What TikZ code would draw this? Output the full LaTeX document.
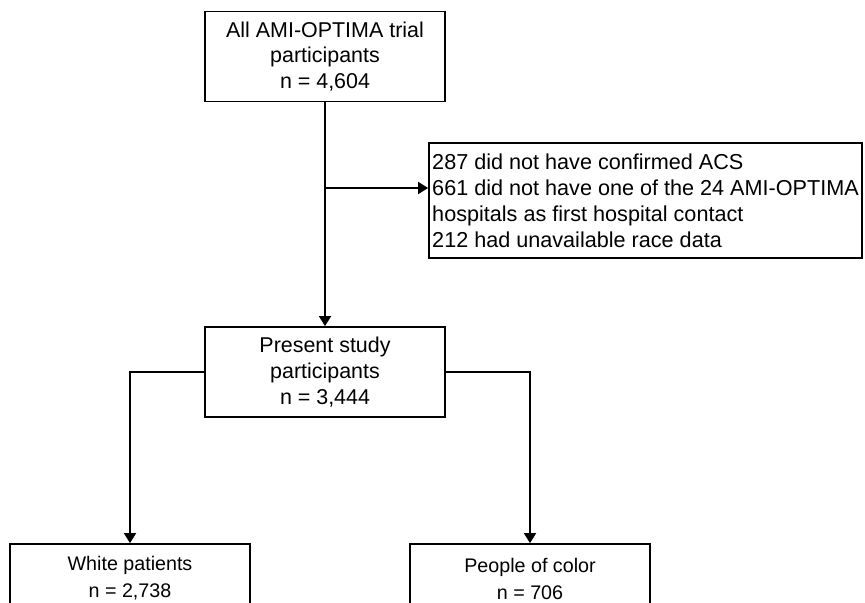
\documentclass[tikz,border=0pt]{standalone}
\usepackage{fontspec}
\setmainfont{Liberation Sans}
\usetikzlibrary{arrows.meta}

\begin{document}
\begin{tikzpicture}[>={Triangle[length=0.2cm, width=0.24cm]}, line width=1pt,
    box/.style={draw, align=center, minimum width=4.8cm, minimum height=1.8cm, inner sep=2pt, font=\fontsize{12.2}{14.7}\selectfont},
    groupbox/.style={box, minimum height=1.38cm, font=\fontsize{11.2}{15.4}\selectfont}]
	\useasboundingbox (0,0) rectangle (17.3,-12.04);
	
	% ==================== study participants ====================
	\node[box] (all) at (6.5,-1.13) {All AMI-OPTIMA trial\\participants\\n = 4,604};
	\node[box] (present) at (6.5,-7.44) {Present study\\participants\\n = 3,444};
	
	% exclusions (arrow points at the second line)
	\node[box, align=left, minimum width=8.66cm, minimum height=2.3cm, inner xsep=1pt, font=\fontsize{12.3}{14.8}\selectfont] (excl) at (12.91,-4.01)
		{287 did not have confirmed ACS\\661 did not have one of the 24 AMI-OPTIMA\\hospitals as first hospital contact\\212 had unavailable race data};
	
	\draw[->] (all.south) -- (present.north);
	\coordinate (split) at (6.5,-3.76);
	\draw[->] (split) -- (split -| excl.west);
	
	% ==================== groups (bottom edge cut off) ====================
	\node[groupbox] (white) at (2.6,-11.57) {White patients\\n = 2,738};
	\node[groupbox] (poc) at (10.6,-11.57) {People of color\\n = 706};
	
	\draw[->] (present.west) -| (white.north);
	\draw[->] (present.east) -| (poc.north);
\end{tikzpicture}
\end{document}
